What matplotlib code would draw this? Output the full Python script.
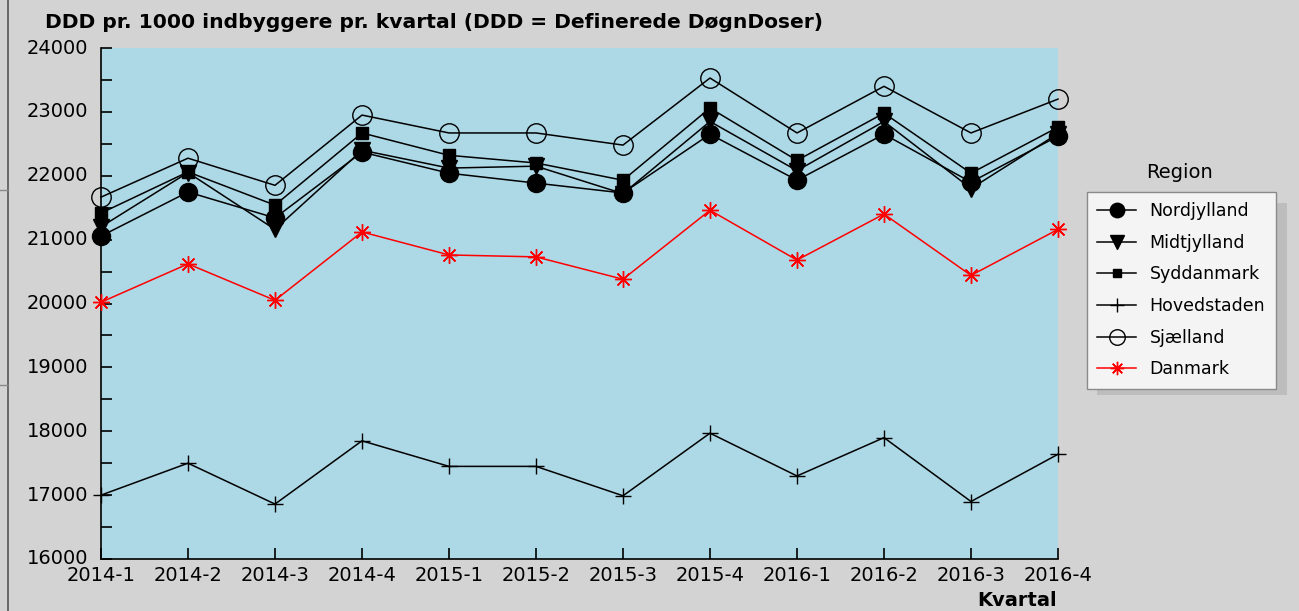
import numpy as np
import matplotlib.pyplot as plt
from matplotlib.patches import Rectangle
from matplotlib.lines import Line2D

kvartaler = ["2014-1", "2014-2", "2014-3", "2014-4", "2015-1", "2015-2",
             "2015-3", "2015-4", "2016-1", "2016-2", "2016-3", "2016-4"]

nordjylland = [21055, 21745, 21340, 22370, 22040, 21885, 21730, 22650, 21930, 22650, 21900, 22620]
midtjylland = [21200, 22050, 21160, 22400, 22120, 22150, 21720, 22850, 22080, 22850, 21800, 22660]
syddanmark = [21415, 22060, 21540, 22670, 22320, 22200, 21930, 23060, 22240, 22980, 22040, 22760]
hovedstaden = [17000, 17500, 16860, 17850, 17450, 17450, 16990, 17970, 17300, 17900, 16900, 17640]
sjaelland = [21665, 22275, 21850, 22950, 22670, 22670, 22480, 23530, 22670, 23400, 22670, 23200]
danmark = [20020, 20620, 20050, 21120, 20760, 20730, 20380, 21460, 20680, 21400, 20440, 21160]

W, H = 1299, 611
fig = plt.figure(figsize=(W / 100, H / 100), dpi=100)
fig.patch.set_facecolor("#d3d3d3")

ax = fig.add_axes([101 / W, 1 - 559 / H, (1058 - 101) / W, (559 - 48) / H])
ax.set_facecolor("#add8e6")

x = np.arange(len(kvartaler))

# (navn, data, marker, size, face, color, zorder)
serier = [
    ("Nordjylland", nordjylland, "o", 13, "black", "black", 8),
    ("Midtjylland", midtjylland, "v", 12, "black", "black", 7),
    ("Syddanmark", syddanmark, "s", 8, "black", "black", 6),
    ("Hovedstaden", hovedstaden, "+", 12, "black", "black", 5),
    ("Sjælland", sjaelland, "o", 14, "none", "black", 4),
    ("Danmark", danmark, (8, 2, 0), 12, "red", "red", 3),
]

handles = []
for navn, data, m, ms, fc, col, z in serier:
    ax.plot(x, data, color=col, lw=1.1, marker=m, ms=ms, mfc=fc, mec=col,
            mew=1.0, zorder=z, clip_on=False)
    handles.append(Line2D([], [], color=col, lw=1.1, marker=m,
                          ms=ms * 0.8, mfc=fc, mec=col, mew=1.0, label=navn))

ax.set_xlim(0, len(kvartaler) - 1)
ax.set_ylim(16000, 24000)
ax.set_xticks(x)
ax.set_xticklabels(kvartaler)
ax.set_yticks(np.arange(16000, 24001, 1000))
ax.set_yticks(np.arange(16500, 24000, 1000), minor=True)
ax.tick_params(axis="both", direction="in", length=8, width=1.2, labelsize=14,
               colors="black")
ax.tick_params(axis="y", which="minor", direction="in", length=8, width=1.2)
ax.tick_params(axis="x", pad=5)
ax.tick_params(axis="y", pad=9)
for lbl in ax.get_yticklabels():
    lbl.set_va("center")
for s in ["top", "right"]:
    ax.spines[s].set_visible(False)
for s in ["left", "bottom"]:
    ax.spines[s].set_linewidth(1.2)

fig.text(45 / W, 1 - 22 / H, "DDD pr. 1000 indbyggere pr. kvartal (DDD = Definerede DøgnDoser)",
         fontsize=14.6, fontweight="bold", ha="left", va="center")
fig.text(1017 / W, 1 - 601 / H, "Kvartal", fontsize=14, fontweight="bold",
         ha="center", va="center")

# legend with shadow
fig.add_artist(Rectangle((1097 / W, 1 - 395 / H), 190 / W, 192 / H,
                         transform=fig.transFigure, facecolor="#bdbdbd",
                         edgecolor="none"))
fig.text(1180 / W, 1 - 172 / H, "Region", fontsize=14, ha="center", va="center")
leg = fig.legend(handles=handles, loc="upper left",
                 bbox_to_anchor=(1087 / W, 1 - 192 / H), fontsize=12.5,
                 frameon=True, fancybox=False, borderaxespad=0, handlelength=2.2,
                 labelspacing=0.78, borderpad=0.6, handletextpad=0.8)
leg.get_frame().set_facecolor("#f4f4f4")
leg.get_frame().set_edgecolor("#8a8a8a")
leg.get_frame().set_alpha(1)

# left border decoration
fig.add_artist(Line2D([8 / W, 8 / W], [0, 1], transform=fig.transFigure,
                      color="#555555", lw=1.2))
fig.add_artist(Line2D([0, 8 / W], [1 - 190 / H, 1 - 190 / H], transform=fig.transFigure,
                      color="#888888", lw=1))
fig.add_artist(Line2D([0, 8 / W], [1 - 385 / H, 1 - 385 / H], transform=fig.transFigure,
                      color="#888888", lw=1))

fig.savefig("out.png", dpi=100, facecolor=fig.get_facecolor())
